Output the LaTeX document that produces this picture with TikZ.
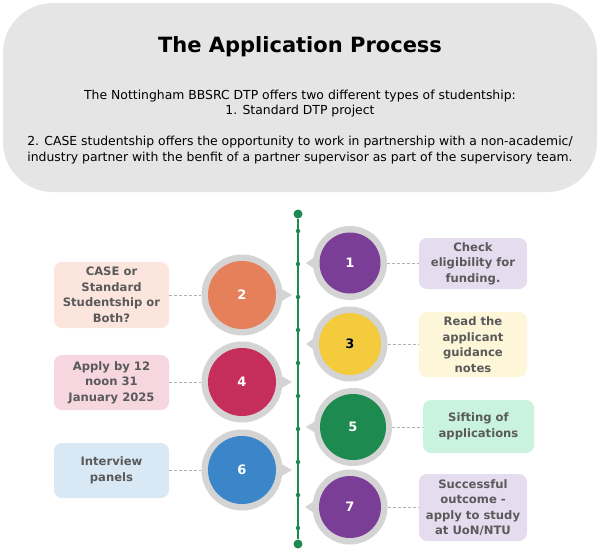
\documentclass[tikz,border=0pt]{standalone}
\usepackage{fontspec}
\setmainfont{DejaVu Sans}
\definecolor{headfill}{HTML}{E5E5E5}
\definecolor{ringgray}{HTML}{D4D4D4}
\definecolor{linegreen}{HTML}{1E8A4F}
\definecolor{boxtext}{HTML}{5A5A5A}
\definecolor{connc}{HTML}{B0B0B0}
\definecolor{cpurple}{HTML}{7A3E97}
\definecolor{corange}{HTML}{E5805B}
\definecolor{cyellow}{HTML}{F3CB3D}
\definecolor{ccrimson}{HTML}{C52D5B}
\definecolor{cgreen}{HTML}{1D8B50}
\definecolor{cblue}{HTML}{3A86C8}
\definecolor{fpurple}{HTML}{E5DCEF}
\definecolor{forange}{HTML}{FBE5DD}
\definecolor{fyellow}{HTML}{FDF6D8}
\definecolor{fcrimson}{HTML}{F6D6DF}
\definecolor{fgreen}{HTML}{C9F3DE}
\definecolor{fblue}{HTML}{D9E8F5}
\tikzset{
  ringnode/.style={circle,fill=ringgray,inner sep=0pt,minimum size=#1},
  corenode/.style={circle,inner sep=0pt,minimum size=#1,text=white,font=\bfseries\fontsize{13}{13}\selectfont},
  infobox/.style={rounded corners=8pt,inner sep=0pt,align=center,text=boxtext,
    font=\bfseries\fontsize{11.6}{15.5}\selectfont},
  conn/.style={draw=connc,line width=0.9pt,dash pattern=on 3pt off 2pt},
  tick/.style={circle,fill=linegreen,inner sep=0pt,minimum size=4.5pt},
  endpoint/.style={circle,fill=linegreen,inner sep=0pt,minimum size=9pt},
}
\begin{document}
\begin{tikzpicture}[x=1pt,y=-1pt]
\useasboundingbox (0,0) rectangle (600,552);
\fill[white] (0,0) rectangle (600,552);
% header
\node[fill=headfill,rounded corners=50pt,minimum width=594pt,minimum height=189pt,inner sep=0pt] (head) at (300,97.5) {};
\node[font=\bfseries\fontsize{21}{24}\selectfont,anchor=base] (title) at (300,52) {The Application Process};
\node[font=\fontsize{12.4}{15.5}\selectfont,align=center,anchor=base,inner sep=0pt] (intro) at (300,161)
{The Nottingham BBSRC DTP offers two different types of studentship:\\
1. Standard DTP project\\[15.5pt]
2. CASE studentship offers the opportunity to work in partnership with a non-academic/\\
industry partner with the benfit of a partner supervisor as part of the supervisory team.};
% timeline
\node[endpoint] (tltop) at (298,214) {};
\node[endpoint] (tlbot) at (298,544) {};
\draw[linegreen,line width=1.6pt] (tltop) -- (tlbot);
\foreach \k in {0,...,9}{
  \node[tick] (tk\k) at (298,231+33*\k) {};
}
% right-side circles
\foreach \n/\cx/\cy/\r/\R/\col/\tip in {1/350/263/61/74/cpurple/306, 3/350/344/62/75/cyellow/306, 5/353/427/66/78/cgreen/306, 7/350/507/62/75/cpurple/305}{
  \fill[ringgray] (\cx-\R/2+4,\cy-7.5) -- (\tip,\cy) -- (\cx-\R/2+4,\cy+7.5) -- cycle;
  \node[ringnode=\R pt] (r\n) at (\cx,\cy) {};
  \node[corenode=\r pt,fill=\col] (c\n) at (\cx,\cy) {\n};
}
% left-side circles
\foreach \n/\cx/\cy/\col in {2/242/295/corange, 4/242/382/ccrimson, 6/242/470/cblue}{
  \fill[ringgray] (\cx+36,\cy-8) -- (292,\cy) -- (\cx+36,\cy+8) -- cycle;
  \node[ringnode=81pt] (r\n) at (\cx,\cy) {};
  \node[corenode=68pt,fill=\col] (c\n) at (\cx,\cy) {\n};
}
\node[text=black,font=\bfseries\fontsize{13}{13}\selectfont] at (c3) {3};
% boxes
\node[infobox,fill=fpurple,minimum width=108pt,minimum height=51pt] (b1) at (473,263.5) {Check\\eligibility for\\funding.};
\node[infobox,fill=fyellow,minimum width=108pt,minimum height=65pt] (b3) at (473,344.5) {Read the\\applicant\\guidance\\notes};
\node[infobox,fill=fgreen,minimum width=111pt,minimum height=53pt] (b5) at (478.5,426.5) {Sifting of\\applications};
\node[infobox,fill=fpurple,minimum width=108pt,minimum height=67pt] (b7) at (473,507.5) {Successful\\outcome -\\apply to study\\at UoN/NTU};
\node[infobox,fill=forange,minimum width=115pt,minimum height=66pt] (b2) at (111.5,295) {CASE or\\Standard\\Studentship or\\Both?};
\node[infobox,fill=fcrimson,minimum width=115pt,minimum height=55pt] (b4) at (111.5,382.5) {Apply by 12\\noon 31\\January 2025};
\node[infobox,fill=fblue,minimum width=115pt,minimum height=55pt] (b6) at (111.5,470.5) {Interview\\panels};
% connectors
\foreach \n in {1,3,5,7}{
  \draw[conn] (r\n.east) -- (r\n.east -| b\n.west);
}
\foreach \n in {2,4,6}{
  \draw[conn] (b\n.east |- r\n.west) -- (r\n.west);
}
\end{tikzpicture}
\end{document}
